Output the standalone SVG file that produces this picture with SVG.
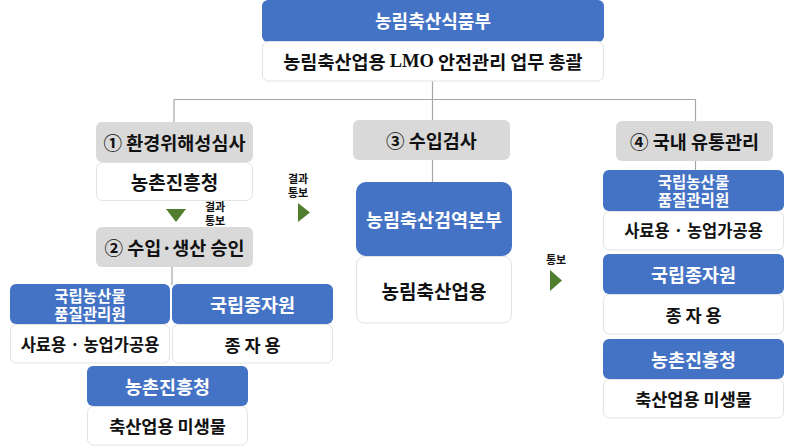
<svg xmlns="http://www.w3.org/2000/svg" width="800" height="446" viewBox="0 0 800 446">
<style>
.blue{fill:#4472C4;}
.gray{fill:#D9D9D9;}
.white{fill:#FFFFFF;stroke:#E2E2E2;stroke-width:1;}
.t{font-family:"Noto Sans CJK KR","Noto Sans",sans-serif;font-weight:bold;text-anchor:middle;dominant-baseline:central;}
.tl{font-family:"Liberation Sans","Noto Sans CJK KR",sans-serif;}
.tw{fill:#FFFFFF;}
.tb{fill:#111111;}
.conn{stroke:#A6A6A6;stroke-width:1.2;fill:none;}
.tri{fill:#4F7F2E;}
.small{font-size:11px;}
.g{font-size:18.5px;}
.b2{font-size:15.5px;}
.b1{font-size:18.5px;}
.w{font-size:17.5px;}
</style>
<rect width="800" height="446" fill="#FFFFFF"/>
<g id="connectors">
<path class="conn" d="M432.5 81 V99.5 M174 99.5 H695.5 M174 99.5 V122 M432.5 99.5 V120 M695.5 99.5 V121 M432.5 160 V182 M172 267 V285 M695.5 161 V170"/>
</g>
<g id="n-mafra">
<rect class="blue" x="262" y="0" width="342" height="42" rx="6"/>
<text class="t tw" x="433" y="20" font-size="18">농림축산식품부</text>
<rect class="white" x="262.5" y="41.5" width="341" height="39.5" rx="6"/>
<text class="t tb" x="433" y="61" font-size="18.5">농림축산업용 <tspan font-family="Liberation Serif,serif">LMO</tspan> 안전관리 업무 총괄</text>
</g>
<g id="n-step1">
<rect class="gray" x="96" y="122" width="157" height="40" rx="6"/>
<text class="t tb g" x="174.5" y="142">① 환경위해성심사</text>
<rect class="white" x="96.5" y="162.5" width="156" height="38" rx="6"/>
<text class="t tb" x="174.5" y="181" font-size="19">농촌진흥청</text>
</g>
<g id="n-step2">
<rect class="gray" x="96" y="227" width="157" height="40" rx="6"/>
<text class="t tb g" x="174.5" y="247">② 수입·생산 승인</text>
</g>
<g id="n-naqs1">
<rect class="blue" x="10" y="284" width="160" height="40" rx="6"/>
<text class="t tl tw b2" x="90" y="296.3">국립농산물<tspan x="90" dy="17.5">품질관리원</tspan></text>
<rect class="white" x="10.5" y="324.5" width="159" height="38.5" rx="6"/>
<text class="t tb" x="90" y="344" font-size="16.5">사료용 · 농업가공용</text>
</g>
<g id="n-seed1">
<rect class="blue" x="172" y="284" width="161" height="40" rx="6"/>
<text class="t tw b1" x="252.5" y="304">국립종자원</text>
<rect class="white" x="172.5" y="324.5" width="160" height="38.5" rx="6"/>
<text class="t tb w" x="252.5" y="344">종 자 용</text>
</g>
<g id="n-rda1">
<rect class="blue" x="87" y="366" width="161" height="40" rx="6"/>
<text class="t tw b1" x="167.5" y="386">농촌진흥청</text>
<rect class="white" x="87.5" y="406.5" width="160" height="38.5" rx="6"/>
<text class="t tb w" x="167.5" y="425">축산업용 미생물</text>
</g>
<g id="n-step3">
<rect class="gray" x="353" y="120" width="157" height="40" rx="6"/>
<text class="t tb g" x="431.5" y="140">③ 수입검사</text>
</g>
<g id="n-qia">
<rect class="blue" x="356" y="182" width="156" height="74" rx="10"/>
<text class="t tw" x="434" y="219" font-size="18.5">농림축산검역본부</text>
<rect class="white" x="356.5" y="256.5" width="155" height="66.5" rx="8"/>
<text class="t tb" x="434" y="290" font-size="19">농림축산업용</text>
</g>
<g id="n-step4">
<rect class="gray" x="616" y="121" width="157" height="40" rx="6"/>
<text class="t tb g" x="694.5" y="141">④ 국내 유통관리</text>
</g>
<g id="n-naqs4">
<rect class="blue" x="603" y="170" width="181" height="41" rx="6"/>
<text class="t tl tw b2" x="693.5" y="182.8">국립농산물<tspan x="693.5" dy="17.5">품질관리원</tspan></text>
<rect class="white" x="603.5" y="211.5" width="180" height="38.5" rx="6"/>
<text class="t tb" x="693.5" y="230" font-size="16.5">사료용 · 농업가공용</text>
</g>
<g id="n-seed4">
<rect class="blue" x="603" y="254" width="181" height="40" rx="6"/>
<text class="t tw b1" x="693.5" y="274">국립종자원</text>
<rect class="white" x="603.5" y="294.5" width="180" height="39.5" rx="6"/>
<text class="t tb w" x="693.5" y="314">종 자 용</text>
</g>
<g id="n-rda4">
<rect class="blue" x="603" y="339" width="181" height="40" rx="6"/>
<text class="t tw b1" x="693.5" y="359">농촌진흥청</text>
<rect class="white" x="603.5" y="379.5" width="180" height="38.5" rx="6"/>
<text class="t tb w" x="693.5" y="398">축산업용 미생물</text>
</g>
<g id="arrows">
<polygon class="tri" points="166,209 186,209 176,222"/>
<text class="t tl tb small" x="215" y="207.4">결과<tspan x="215" dy="13.5">통보</tspan></text>
<polygon class="tri" points="298,203 310,212.5 298,222"/>
<text class="t tl tb small" x="298" y="179.4">결과<tspan x="298" dy="13.5">통보</tspan></text>
<polygon class="tri" points="550,270 562,280.5 550,291"/>
<text class="t tb small" x="556" y="259">통보</text>
</g>
</svg>
